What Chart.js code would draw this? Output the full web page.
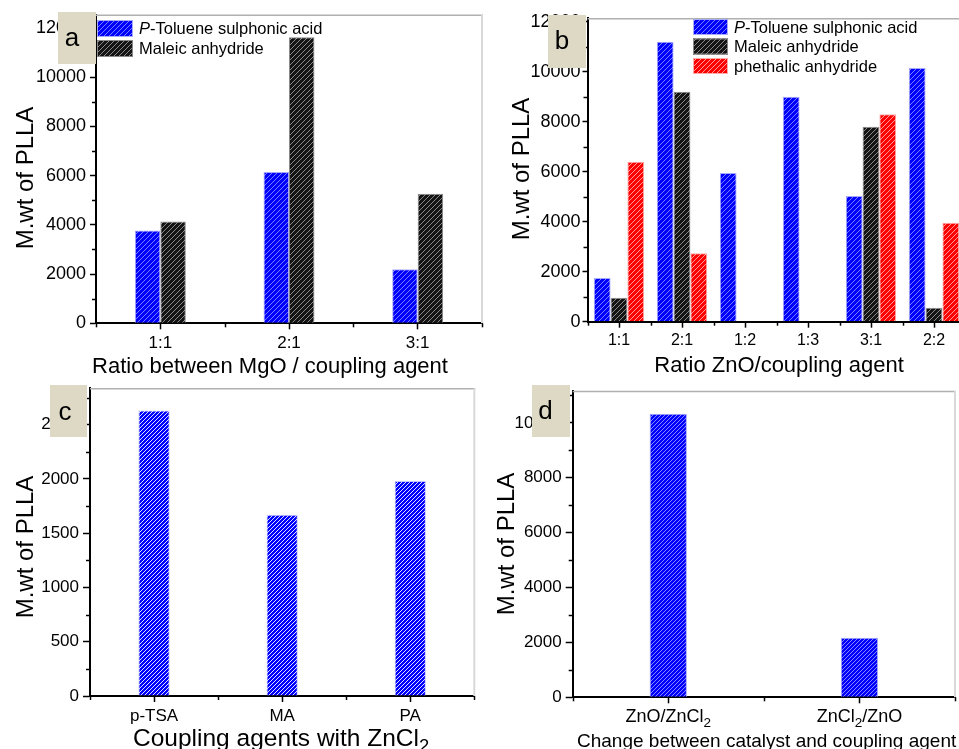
<!DOCTYPE html>
<html>
<head>
<meta charset="utf-8">
<script src="https://cdn.jsdelivr.net/npm/chart.js@4.4.1/dist/chart.umd.min.js"></script>
<style>
  html, body { margin: 0; padding: 0; background: #fff; overflow: hidden; width: 959px; height: 749px; }
  canvas { position: absolute; left: 0; top: 0; }
</style>
</head>
<body>
<canvas id="panelA" width="1000" height="749"></canvas>
<canvas id="panelB" width="1000" height="749"></canvas>
<canvas id="panelC" width="1000" height="749"></canvas>
<canvas id="panelD" width="1000" height="749"></canvas>
<script>
const FONT = "'Liberation Sans', Arial, sans-serif";

// (a) MgO : coupling agent ratio
const ratiosMgO = ['1:1', '2:1', '3:1'];
const mgoPTSA = [3770, 6150, 2200];
const mgoMA = [4140, 11630, 5270];
const ticksA = [0, 2000, 4000, 6000, 8000, 10000, 12000];

// (b) ZnO : coupling agent ratio
const ratiosZnO = ['1:1', '2:1', '1:2', '1:3', '3:1', '2:2'];
const znoPTSA = [1750, 11200, 5950, 9000, 5030, 10150];
const znoMA = [960, 9200, null, null, 7800, 560];
const znoPA = [6400, 2740, null, null, 8300, 3960];
const ticksB = [0, 2000, 4000, 6000, 8000, 10000, 12000];

// (c) coupling agents used with ZnCl2
const agentsZnCl2 = ['p-TSA', 'MA', 'PA'];
const zncl2Mw = [2630, 1670, 1980];
const ticksC = [0, 500, 1000, 1500, 2000, 2500];

// (d) order of catalyst and coupling agent
const orderLabels = ['ZnO/ZnCl₂', 'ZnCl₂/ZnO'];
const orderMw = [10330, 2170];
const ticksD = [0, 2000, 4000, 6000, 8000, 10000];

const SERIES_PTSA = 'P-Toluene sulphonic acid';
const SERIES_MA = 'Maleic anhydride';
const SERIES_PA = 'phethalic anhydride';
const Y_TITLE = 'M.wt of PLLA';

// diagonal hatch fill ("/" direction)
function hatch(canvasId, base, stripe, size) {
  const t = document.createElement('canvas');
  t.width = size; t.height = size;
  const g = t.getContext('2d');
  g.fillStyle = base; g.fillRect(0, 0, size, size);
  g.fillStyle = stripe;
  for (let i = 0; i < size; i++) g.fillRect(i, size - 1 - i, 1, 1);
  return document.getElementById(canvasId).getContext('2d').createPattern(t, 'repeat');
}

// text with subscript "₂" and optional italic lead characters
function segmentsOf(str, italicLead) {
  const segs = [];
  if (italicLead) { segs.push({ t: str.slice(0, italicLead), it: true }); str = str.slice(italicLead); }
  str.split(/(₂)/).forEach(p => { if (p === '₂') segs.push({ t: '2', sub: true }); else if (p) segs.push({ t: p }); });
  return segs;
}
function drawRich(ctx, str, x, y, size, align, italicLead) {
  const segs = segmentsOf(str, italicLead);
  const fontFor = s => (s.it ? 'italic ' : '') + (s.sub ? size * 0.75 : size) + 'px ' + FONT;
  let total = 0;
  segs.forEach(s => { ctx.font = fontFor(s); s.w = ctx.measureText(s.t).width; total += s.w; });
  let cx = align === 'center' ? x - total / 2 : x;
  ctx.textAlign = 'left';
  ctx.textBaseline = 'alphabetic';
  segs.forEach(s => {
    ctx.font = fontFor(s);
    ctx.fillText(s.t, cx, s.sub ? y + size * 0.25 : y);
    cx += s.w;
  });
}

function stroke(ctx, x1, y1, x2, y2) {
  ctx.beginPath(); ctx.moveTo(x1, y1); ctx.lineTo(x2, y2); ctx.stroke();
}

const decor = {
  id: 'decor',
  afterDraw(chart, args, o) {
    const ctx = chart.ctx, a = chart.chartArea, xs = chart.scales.x, ys = chart.scales.y;
    ctx.save();
    // light frame on top and right
    ctx.strokeStyle = '#b0b0b0'; ctx.lineWidth = 1.5;
    stroke(ctx, a.left, a.top + 0.5, a.right + 1, a.top + 0.5);
    ctx.strokeStyle = '#d9d9d9'; ctx.lineWidth = 2;
    stroke(ctx, a.right, a.top, a.right, a.bottom);
    // minor ticks
    ctx.strokeStyle = '#000'; ctx.lineWidth = 1.5;
    for (let v = o.minorStep; v < ys.max; v += 2 * o.minorStep) {
      const py = Math.round(ys.getPixelForValue(v)) + 0.5;
      stroke(ctx, a.left - o.minorLen, py, a.left, py);
    }
    const half = (xs.getPixelForValue(1) - xs.getPixelForValue(0)) / 2;
    for (let i = 0; i <= chart.data.labels.length; i++) {
      const px = Math.round(xs.getPixelForValue(0) - half + i * 2 * half) + 0.5;
      stroke(ctx, px, a.bottom, px, a.bottom + o.minorLen);
    }
    ctx.fillStyle = '#000';
    // category labels with true subscripts
    if (o.richTicks) {
      chart.data.labels.forEach((lab, i) => {
        drawRich(ctx, lab, xs.getPixelForValue(i), o.richTicks.y, o.richTicks.size, 'center');
      });
    }
    // axis titles
    ctx.save();
    ctx.translate(o.yTitle.x, o.yTitle.y);
    ctx.rotate(-Math.PI / 2);
    ctx.font = o.yTitle.size + 'px ' + FONT;
    ctx.textAlign = 'center'; ctx.textBaseline = 'middle';
    ctx.fillText(o.yTitle.text, 0, 0);
    ctx.restore();
    drawRich(ctx, o.xTitle.text, o.xTitle.x, o.xTitle.y, o.xTitle.size, o.xTitle.align);
    // legend
    if (o.legend) {
      const L = o.legend;
      chart.data.datasets.forEach((ds, i) => {
        const ry = L.y + i * L.rowH;
        ctx.fillStyle = ds.backgroundColor;
        ctx.fillRect(L.x, ry, L.w, L.h);
        ctx.strokeStyle = ds.borderColor; ctx.lineWidth = 1;
        ctx.strokeRect(L.x + 0.5, ry + 0.5, L.w - 1, L.h - 1);
        ctx.fillStyle = '#000';
        drawRich(ctx, ds.label, L.x + L.w + 6, ry + L.h / 2 + L.size * 0.36, L.size, 'left', ds.label === SERIES_PTSA ? 1 : 0);
      });
    }
    // panel letter
    const B = o.box;
    ctx.fillStyle = '#ddd9c5';
    ctx.fillRect(B.x, B.y, B.w, B.h);
    ctx.fillStyle = '#000';
    ctx.font = B.size + 'px ' + FONT;
    ctx.textAlign = 'center'; ctx.textBaseline = 'middle';
    ctx.fillText(B.letter, B.lx, B.ly);
    ctx.restore();
  }
};

const CW = 1000, CH = 749, AXW = 60, AXH = 40;

function panel(id, p) {
  const area = p.area;
  return new Chart(document.getElementById(id), {
    type: 'bar',
    data: { labels: p.labels, datasets: p.datasets },
    plugins: [decor],
    options: {
      responsive: false,
      animation: false,
      devicePixelRatio: 1,
      events: [],
      layout: { padding: { left: area.l - AXW, right: CW - area.r, top: area.t, bottom: CH - area.b - AXH } },
      plugins: {
        legend: { display: false },
        tooltip: { enabled: false },
        decor: p.decor
      },
      scales: {
        x: {
          offset: true,
          afterFit: s => { s.height = AXH; },
          grid: { offset: false, drawOnChartArea: false, tickLength: 6, tickColor: '#000', tickWidth: 1.5 },
          border: { color: '#000', width: 2 },
          ticks: { display: !p.decor.richTicks, color: '#000', font: { family: FONT, size: p.xFont }, padding: p.xPad, maxRotation: 0, autoSkip: false }
        },
        y: {
          min: 0, max: p.yMax,
          afterFit: s => { s.width = AXW; },
          afterBuildTicks: s => { s.ticks = p.yTicks.map(v => ({ value: v })); },
          grid: { drawOnChartArea: false, tickLength: p.yTickLen, tickColor: '#000', tickWidth: 1.5 },
          border: { color: '#000', width: 2 },
          ticks: { color: '#000', font: { family: FONT, size: p.yFont }, padding: p.yPad, callback: v => String(v) }
        }
      }
    }
  });
}

function bars(label, data, fill, border, cp) {
  return { label, data, backgroundColor: fill, borderColor: border, borderWidth: 1,
           barPercentage: 1, categoryPercentage: cp };
}

panel('panelA', {
  labels: ratiosMgO,
  datasets: [
    bars(SERIES_PTSA, mgoPTSA, hatch('panelA', '#0000ff', '#7d7dff', 5), '#a8a8ff', 0.396),
    bars(SERIES_MA, mgoMA, hatch('panelA', '#141414', '#8a8a8a', 5), '#8a8a8a', 0.396)
  ],
  area: { l: 96, r: 482, t: 13, b: 323.3 },
  yMax: 12540, yTicks: ticksA, yFont: 18, yPad: 4, yTickLen: 6, xFont: 17, xPad: 4,
  decor: {
    minorStep: 1000, minorLen: 4,
    yTitle: { text: Y_TITLE, x: 26, y: 178, size: 24 },
    xTitle: { text: 'Ratio between MgO / coupling agent', x: 270, y: 373, size: 22, align: 'center' },
    legend: { x: 97, y: 20, w: 36, h: 17, rowH: 20, size: 16.5 },
    box: { x: 58, y: 12, w: 38, h: 52, letter: 'a', lx: 72, ly: 39, size: 26 }
  }
});

panel('panelB', {
  labels: ratiosZnO,
  datasets: [
    bars(SERIES_PTSA, znoPTSA, hatch('panelB', '#0000ff', '#7d7dff', 5), '#a8a8ff', 0.8),
    bars(SERIES_MA, znoMA, hatch('panelB', '#141414', '#8a8a8a', 5), '#8a8a8a', 0.8),
    bars(SERIES_PA, znoPA, hatch('panelB', '#ff0000', '#ff9a9a', 5), '#ffaaaa', 0.8)
  ],
  area: { l: 587.5, r: 965.5, t: 18.3, b: 321.7 },
  yMax: 12140, yTicks: ticksB, yFont: 18, yPad: 2, yTickLen: 5, xFont: 16, xPad: 3,
  decor: {
    minorStep: 1000, minorLen: 4,
    yTitle: { text: Y_TITLE, x: 522, y: 169, size: 24 },
    xTitle: { text: 'Ratio ZnO/coupling agent', x: 779, y: 372, size: 22, align: 'center' },
    legend: { x: 693, y: 19, w: 35, h: 16, rowH: 19.5, size: 16.5 },
    box: { x: 548, y: 15, w: 38, h: 53, letter: 'b', lx: 562, ly: 42, size: 26 }
  }
});

panel('panelC', {
  labels: agentsZnCl2,
  datasets: [
    bars('ZnCl₂', zncl2Mw, hatch('panelC', '#0000ff', '#dcdcff', 4), '#c4c4ff', 0.244)
  ],
  area: { l: 90, r: 474.3, t: 388.3, b: 696 },
  yMax: 2835, yTicks: ticksC, yFont: 17, yPad: 4, yTickLen: 7, xFont: 17, xPad: 4,
  decor: {
    minorStep: 250, minorLen: 4,
    yTitle: { text: Y_TITLE, x: 26, y: 547, size: 24 },
    xTitle: { text: 'Coupling agents with ZnCl₂', x: 133, y: 746, size: 24.5, align: 'left' },
    box: { x: 50, y: 385, w: 37, h: 52, letter: 'c', lx: 65, ly: 413, size: 26 }
  }
});

panel('panelD', {
  labels: orderLabels,
  datasets: [
    bars('ZnO', orderMw, hatch('panelD', '#0000ff', '#8585ff', 4), '#a8a8ff', 0.195)
  ],
  area: { l: 572.7, r: 955, t: 391, b: 697.3 },
  yMax: 11160, yTicks: ticksD, yFont: 17, yPad: 4, yTickLen: 7, xFont: 17, xPad: 5,
  decor: {
    minorStep: 1000, minorLen: 4,
    richTicks: { y: 722, size: 18 },
    yTitle: { text: Y_TITLE, x: 507, y: 544, size: 24 },
    xTitle: { text: 'Change between catalyst and coupling agent', x: 577, y: 747, size: 19, align: 'left' },
    box: { x: 532, y: 385, w: 38, h: 52, letter: 'd', lx: 545.5, ly: 412, size: 26 }
  }
});
</script>
</body>
</html>
